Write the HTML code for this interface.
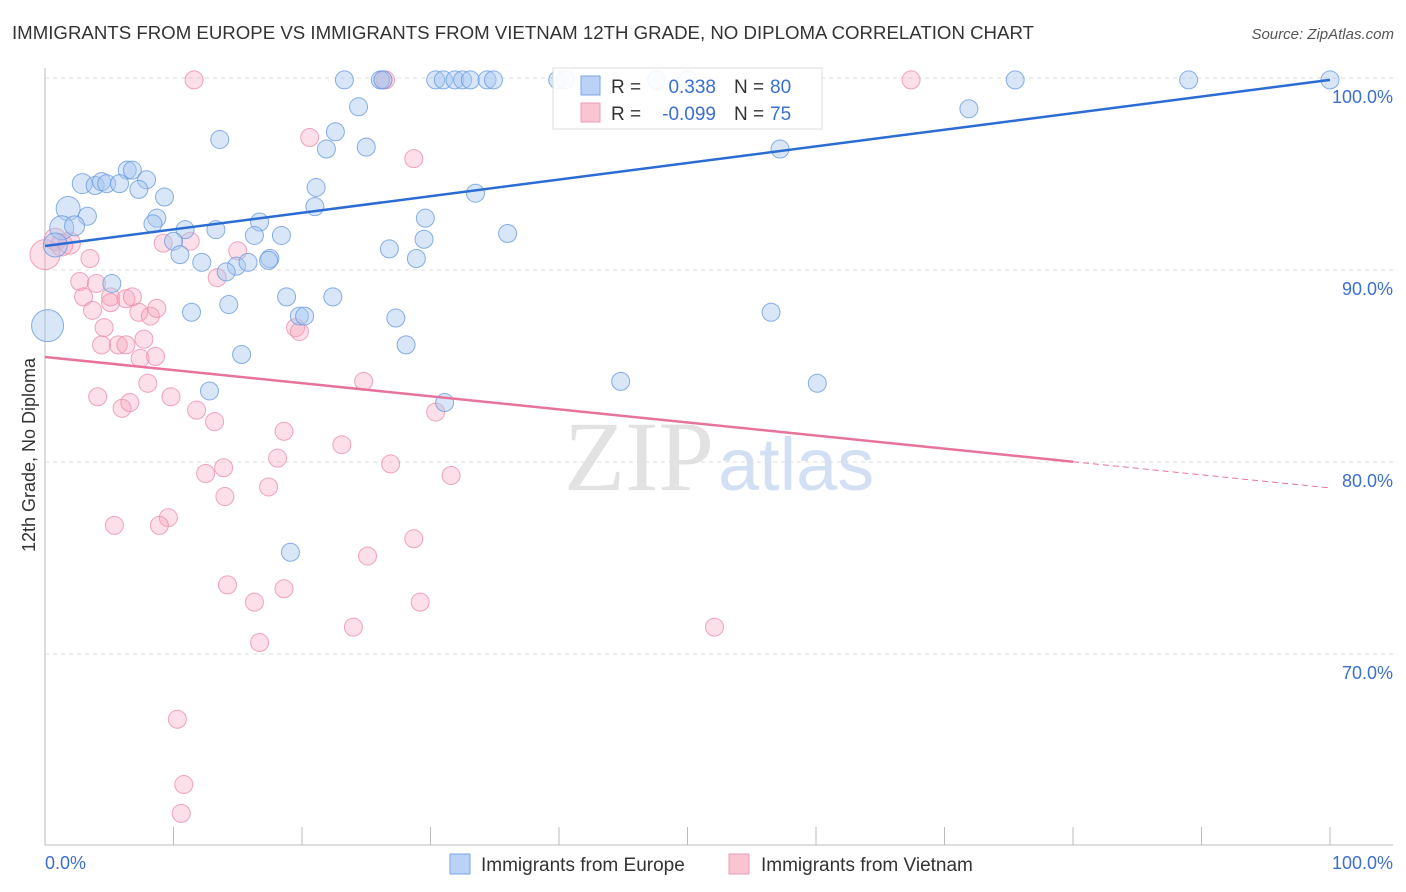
<!DOCTYPE html>
<html><head><meta charset="utf-8"><style>
body{margin:0;background:#fff;font-family:"Liberation Sans",sans-serif;}
svg{display:block}
</style></head><body>
<svg id="c" width="1406" height="892">
<text x="12" y="39" font-size="18" fill="#333" textLength="1022" lengthAdjust="spacingAndGlyphs">IMMIGRANTS FROM EUROPE VS IMMIGRANTS FROM VIETNAM 12TH GRADE, NO DIPLOMA CORRELATION CHART</text>
<text x="1394" y="39" font-size="15" fill="#555" font-style="italic" text-anchor="end">Source: ZipAtlas.com</text>
<text x="714" y="490" font-size="100" fill="#e2e2e2" font-family="Liberation Serif,serif" text-anchor="end">ZIP</text>
<text x="718" y="490" font-size="74" fill="#d3e0f3">atlas</text>
<g id="grid"></g><g id="pts"></g><g id="lines"></g>
<text transform="translate(35,455) rotate(-90)" font-size="18" fill="#333" text-anchor="middle">12th Grade, No Diploma</text>
<text x="45" y="869" font-size="18" fill="#3b6fd0">0.0%</text>
<text x="1393" y="869" font-size="18" fill="#3b6fd0" text-anchor="end">100.0%</text>
<g>
<rect x="553" y="68" width="269" height="61" fill="#fff" fill-opacity="0.9" stroke="#ddd"/>
<rect x="581" y="76" width="19" height="19" fill="#b9d2f5" stroke="#7aa6e8"/>
<rect x="581" y="103" width="19" height="19" fill="#f9c5d3" stroke="#ee9bb4"/>
<text x="611" y="93" font-size="19" fill="#333">R = </text><text x="716" y="93" font-size="19" fill="#3b6fd0" text-anchor="end">0.338</text>
<text x="734" y="93" font-size="19" fill="#333">N = </text><text x="770" y="93" font-size="19" fill="#3b6fd0">80</text>
<text x="611" y="120" font-size="19" fill="#333">R = </text><text x="716" y="120" font-size="19" fill="#3b6fd0" text-anchor="end">-0.099</text>
<text x="734" y="120" font-size="19" fill="#333">N = </text><text x="770" y="120" font-size="19" fill="#3b6fd0">75</text>
</g>
<g><rect x="450" y="854" width="20" height="20" fill="#b9d2f5" stroke="#7aa6e8"/><text x="481" y="871" font-size="19" fill="#333">Immigrants from Europe</text></g>
<g><rect x="729" y="854" width="20" height="20" fill="#f9c5d3" stroke="#ee9bb4"/><text x="761" y="871" font-size="19" fill="#333">Immigrants from Vietnam</text></g>
</svg>
<script>
const yTicks=[100,90,80,70];
const blueX=[23.3,26.1,26.3,30.4,31.0,31.9,32.5,33.1,34.4,34.9,39.9,40.5,47.6,50.0,75.5,89.0,100,71.9,24.4,13.6,22.6,21.9,25.0,57.2,6.4,6.8,7.9,2.9,3.9,4.4,4.8,5.8,7.3,9.3,21.1,21.0,33.5,1.8,3.3,1.3,2.3,8.7,8.4,16.7,10.9,13.3,29.6,36.0,16.3,18.4,10.0,29.5,26.8,10.5,12.2,14.9,15.8,17.5,17.4,28.9,14.1,5.2,18.8,22.4,14.3,11.4,19.8,20.2,27.3,56.5,28.1,15.3,44.8,60.1,12.8,31.1,19.1,0.2,0.8];
const blueY=[99.9,99.9,99.9,99.9,99.9,99.9,99.9,99.9,99.9,99.9,99.9,99.9,99.9,99.9,99.9,99.9,99.9,98.4,98.5,96.8,97.2,96.3,96.4,96.3,95.2,95.2,94.7,94.5,94.4,94.6,94.5,94.5,94.2,93.8,94.3,93.3,94.0,93.2,92.8,92.2,92.3,92.7,92.4,92.5,92.1,92.1,92.7,91.9,91.8,91.8,91.5,91.6,91.1,90.8,90.4,90.2,90.4,90.6,90.5,90.6,89.9,89.3,88.6,88.6,88.2,87.8,87.6,87.6,87.5,87.8,86.1,85.6,84.2,84.1,83.7,83.1,75.3,87.1,91.3];
const blueBig=[0,0,0,0,0,0,0,0,0,0,0,0,0,0,0,0,0,0,0,0,0,0,0,0,0,0,0,1,0,0,0,0,0,0,0,0,0,3,0,3,1,0,0,0,0,0,0,0,0,0,0,0,0,0,0,0,0,0,0,0,0,0,0,0,0,0,0,0,0,0,0,0,0,0,0,0,0,7,3];
const pinkX=[11.6,26.3,26.5,67.4,20.6,28.7,0.8,1.3,1.9,0.0,3.5,9.2,11.3,15.0,13.4,2.7,3.0,3.7,4.0,5.1,5.1,6.3,6.8,7.3,8.2,8.7,4.6,4.4,5.7,6.3,7.7,7.4,8.6,19.5,19.8,24.8,8.0,4.1,9.8,6.0,6.6,11.8,13.2,18.6,23.1,30.4,18.1,26.9,31.6,13.9,12.5,14.0,17.4,9.6,5.4,8.9,25.1,28.7,14.2,16.3,18.6,29.2,24.0,52.1,16.7,10.3,10.8,10.6];
const pinkY=[99.9,99.9,99.9,99.9,96.9,95.8,91.6,91.3,91.4,90.8,90.6,91.4,91.5,91.0,89.6,89.4,88.6,87.9,89.3,88.6,88.3,88.5,88.6,87.8,87.6,88.0,87.0,86.1,86.1,86.1,86.4,85.4,85.5,87.0,86.8,84.2,84.1,83.4,83.4,82.8,83.1,82.7,82.1,81.6,80.9,82.6,80.2,79.9,79.3,79.7,79.4,78.2,78.7,77.1,76.7,76.7,75.1,76.0,73.6,72.7,73.4,72.7,71.4,71.4,70.6,66.6,63.2,61.7];
const pinkBig=[0,0,0,0,0,0,2,2,2,6,0,0,0,0,0,0,0,0,0,0,0,0,0,0,0,0,0,0,0,0,0,0,0,0,0,0,0,0,0,0,0,0,0,0,0,0,0,0,0,0,0,0,0,0,0,0,0,0,0,0,0,0,0,0,0,0,0,0];
const blueTrend=[91.25,99.9];
const pinkTrend=[85.47,78.65];
const pinkSolidEnd=80;
const NS='http://www.w3.org/2000/svg';
const X=v=>45+v*12.85, Y=v=>78+(100-v)*19.2;
function mk(t,a,p){const e=document.createElementNS(NS,t);for(const k in a)e.setAttribute(k,a[k]);p.appendChild(e);return e;}
const grid=document.getElementById('grid');
yTicks.forEach(t=>{
 const l=mk('line',{x1:45,x2:1393,y1:Y(t),y2:Y(t),stroke:'#ddd','stroke-dasharray':'4,4'},grid);
 
 
 const tx=mk('text',{x:1393,y:Y(t)+25,'font-size':18,fill:'#3b6fd0','text-anchor':'end'},grid);
 tx.textContent=t.toFixed(1)+'%';
 
 
});
const ax=mk('line',{x1:45,x2:45,y1:68,y2:845,stroke:'#bbb'},grid);


const bx=mk('line',{x1:45,x2:1393,y1:845,y2:845,stroke:'#bbb'},grid);


for(let i=0;i<=10;i++){const tk=mk('line',{x1:X(i*10),x2:X(i*10),y1:827,y2:845,stroke:'#bbb'},grid);
 
 }
const pts=document.getElementById('pts');
pinkX.forEach((x,i)=>{const c=mk('circle',{cx:X(x),cy:Y(pinkY[i]),r:9+pinkBig[i],fill:'#f5a3bc','fill-opacity':0.35,stroke:'#ec8eab','stroke-opacity':0.8},pts);
 
 });
blueX.forEach((x,i)=>{const c=mk('circle',{cx:X(x),cy:Y(blueY[i]),r:9+blueBig[i],fill:'#a8c7f0','fill-opacity':0.45,stroke:'#6a9be0','stroke-opacity':0.8},pts);
 
 });
const L=document.getElementById('lines');
const b=mk('line',{x1:X(0),y1:Y(blueTrend[0]),x2:X(100),y2:Y(blueTrend[1]),stroke:'#2b6cd4','stroke-width':2.5},L);


const pv=x=>pinkTrend[0]+(pinkTrend[1]-pinkTrend[0])*x/100;
const p=mk('line',{x1:X(0),y1:Y(pv(0)),x2:X(pinkSolidEnd),y2:Y(pv(pinkSolidEnd)),stroke:'#e8739a','stroke-width':2.5},L);


const pd=mk('line',{x1:X(pinkSolidEnd),y1:Y(pv(pinkSolidEnd)),x2:X(100),y2:Y(pv(100)),stroke:'#e8739a','stroke-width':1,'stroke-dasharray':'6,4'},L);


</script>
</body></html>
